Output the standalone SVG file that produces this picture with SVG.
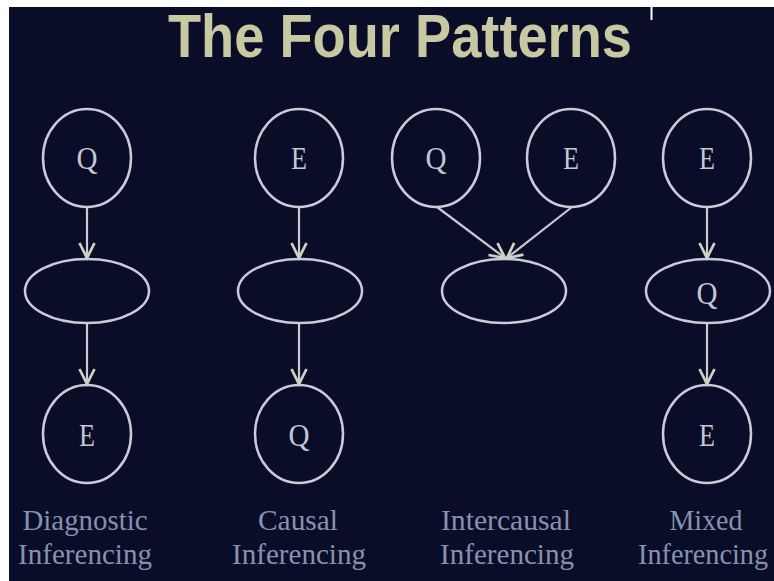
<svg xmlns="http://www.w3.org/2000/svg" width="774" height="581" viewBox="0 0 774 581">
<style>
.node{fill:none;stroke:#c9cbd6;stroke-width:2.5}
.lbl{font-family:"Liberation Serif","Times New Roman",serif;font-size:31px;fill:#c4c6d2;text-anchor:middle}
.cap{font-family:"Liberation Serif","Times New Roman",serif;font-size:29px;fill:#8792ad;text-anchor:middle}
.edge{stroke:#c9cbd0;stroke-width:2.2;fill:none;marker-end:url(#arr)}
</style>
<defs>
<marker id="arr" markerUnits="userSpaceOnUse" markerWidth="20" markerHeight="20" viewBox="-14 -8 16 16" refX="0" refY="0" orient="auto">
<path d="M-12,-6 L0,0 L-12,6" fill="none" stroke="#cfd3c0" stroke-width="2.2"/>
</marker>
</defs>
<rect x="0" y="0" width="774" height="581" fill="#ffffff"/>
<rect x="9" y="7" width="765" height="574" fill="#090d28"/>
<line x1="651.5" y1="7" x2="651.5" y2="20" stroke="#ffffff" stroke-width="2"/>
<text x="400" y="57" font-family="Liberation Sans,Arial,sans-serif" font-weight="bold" font-size="61" fill="#c8c8a2" text-anchor="middle" textLength="464" lengthAdjust="spacingAndGlyphs">The Four Patterns</text>

<g id="connectors">
<line class="edge" x1="87" y1="207" x2="87" y2="258"/>
<line class="edge" x1="87" y1="323" x2="87" y2="384"/>
<line class="edge" x1="299" y1="207" x2="299" y2="258"/>
<line class="edge" x1="299" y1="323" x2="299" y2="384"/>
<line class="edge" x1="437" y1="207" x2="505" y2="258"/>
<line class="edge" x1="572" y1="207" x2="507" y2="258"/>
<line class="edge" x1="707" y1="207" x2="707" y2="258"/>
<line class="edge" x1="707" y1="323" x2="707" y2="384"/>
</g>

<g id="diag-q"><ellipse class="node" cx="87" cy="158" rx="44" ry="49"/><text class="lbl" x="87" y="169" textLength="21" lengthAdjust="spacingAndGlyphs">Q</text></g>
<g id="diag-mid"><ellipse class="node" cx="87" cy="291" rx="62" ry="32"/></g>
<g id="diag-e"><ellipse class="node" cx="87" cy="434" rx="44" ry="49"/><text class="lbl" x="87" y="446" textLength="16" lengthAdjust="spacingAndGlyphs">E</text></g>

<g id="causal-e"><ellipse class="node" cx="299" cy="158" rx="44" ry="49"/><text class="lbl" x="299" y="169" textLength="16" lengthAdjust="spacingAndGlyphs">E</text></g>
<g id="causal-mid"><ellipse class="node" cx="300" cy="291" rx="62" ry="32"/></g>
<g id="causal-q"><ellipse class="node" cx="299" cy="434" rx="44" ry="49"/><text class="lbl" x="299" y="446" textLength="21" lengthAdjust="spacingAndGlyphs">Q</text></g>

<g id="inter-q"><ellipse class="node" cx="436" cy="158" rx="44" ry="49"/><text class="lbl" x="436" y="169" textLength="21" lengthAdjust="spacingAndGlyphs">Q</text></g>
<g id="inter-e"><ellipse class="node" cx="571" cy="158" rx="44" ry="49"/><text class="lbl" x="571" y="169" textLength="16" lengthAdjust="spacingAndGlyphs">E</text></g>
<g id="inter-mid"><ellipse class="node" cx="504" cy="291" rx="62" ry="32"/></g>

<g id="mixed-e"><ellipse class="node" cx="707" cy="158" rx="44" ry="49"/><text class="lbl" x="707" y="169" textLength="16" lengthAdjust="spacingAndGlyphs">E</text></g>
<g id="mixed-q"><ellipse class="node" cx="708" cy="291" rx="62" ry="32"/><text class="lbl" x="707" y="304" textLength="21" lengthAdjust="spacingAndGlyphs">Q</text></g>
<g id="mixed-e2"><ellipse class="node" cx="707" cy="434" rx="44" ry="49"/><text class="lbl" x="707" y="446" textLength="16" lengthAdjust="spacingAndGlyphs">E</text></g>

<g id="captions">
<text class="cap" x="85" y="530" textLength="125" lengthAdjust="spacingAndGlyphs">Diagnostic</text>
<text class="cap" x="85" y="564" textLength="134" lengthAdjust="spacingAndGlyphs">Inferencing</text>
<text class="cap" x="298" y="530" textLength="80" lengthAdjust="spacingAndGlyphs">Causal</text>
<text class="cap" x="299" y="564" textLength="134" lengthAdjust="spacingAndGlyphs">Inferencing</text>
<text class="cap" x="506" y="530" textLength="130" lengthAdjust="spacingAndGlyphs">Intercausal</text>
<text class="cap" x="507" y="564" textLength="134" lengthAdjust="spacingAndGlyphs">Inferencing</text>
<text class="cap" x="706" y="530" textLength="73" lengthAdjust="spacingAndGlyphs">Mixed</text>
<text class="cap" x="703" y="564" textLength="130" lengthAdjust="spacingAndGlyphs">Inferencing</text>
</g>
</svg>
